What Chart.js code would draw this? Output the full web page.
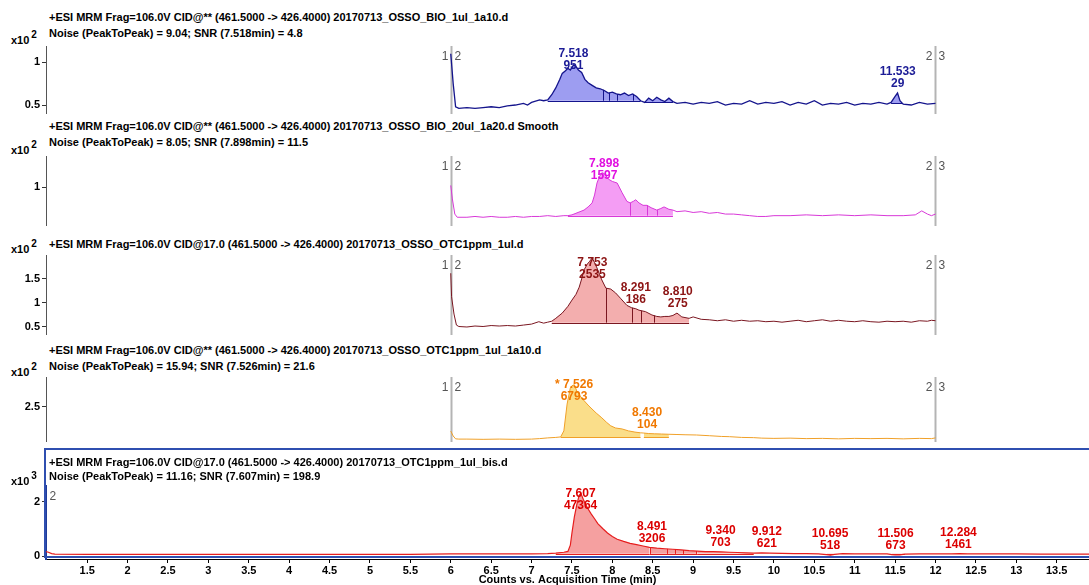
<!DOCTYPE html>
<html>
<head>
<meta charset="utf-8">
<script src="https://cdn.jsdelivr.net/npm/chart.js@4.4.1/dist/chart.umd.min.js"></script>
<style>
  html,body{margin:0;padding:0;background:#fff;}
  body{width:1089px;height:585px;overflow:hidden;position:relative;font-family:'Liberation Sans',Arial,sans-serif;}
  .t{position:absolute;left:49px;font-weight:bold;font-size:11px;line-height:16px;white-space:nowrap;color:#000;}
  .m{position:absolute;left:11px;font-weight:bold;font-size:11px;line-height:14px;white-space:nowrap;color:#000;}
  .m sup{font-size:10px;position:relative;top:-1px;vertical-align:super;line-height:0;margin-left:2px;}
  canvas{position:absolute;left:0;}
  #box{position:absolute;left:44px;top:448px;width:1060px;height:110px;border:2px solid #2f4fb0;box-sizing:border-box;pointer-events:none;}
</style>
</head>
<body>
<div class="t" style="top:9px">+ESI MRM Frag=106.0V CID@** (461.5000 -&gt; 426.4000) 20170713_OSSO_BIO_1ul_1a10.d</div>
<div class="t" style="top:25px">Noise (PeakToPeak) = 9.04; SNR (7.518min) = 4.8</div>
<div class="m" style="top:33px">x10<sup>2</sup></div>

<div class="t" style="top:118px">+ESI MRM Frag=106.0V CID@** (461.5000 -&gt; 426.4000) 20170713_OSSO_BIO_20ul_1a20.d Smooth</div>
<div class="t" style="top:134px">Noise (PeakToPeak) = 8.05; SNR (7.898min) = 11.5</div>
<div class="m" style="top:143px">x10<sup>2</sup></div>

<div class="t" style="top:236px">+ESI MRM Frag=106.0V CID@17.0 (461.5000 -&gt; 426.4000) 20170713_OSSO_OTC1ppm_1ul.d</div>
<div class="m" style="top:242px">x10<sup>2</sup></div>

<div class="t" style="top:342px">+ESI MRM Frag=106.0V CID@** (461.5000 -&gt; 426.4000) 20170713_OSSO_OTC1ppm_1ul_1a10.d</div>
<div class="t" style="top:358px">Noise (PeakToPeak) = 15.94; SNR (7.526min) = 21.6</div>
<div class="m" style="top:365px">x10<sup>2</sup></div>

<canvas id="c1" width="1089" height="78" style="top:36px;width:1089px;height:78px"></canvas>
<canvas id="c2" width="1089" height="80" style="top:146px;width:1089px;height:80px"></canvas>
<canvas id="c3" width="1089" height="90" style="top:245px;width:1089px;height:90px"></canvas>
<canvas id="c4" width="1089" height="75" style="top:367px;width:1089px;height:75px"></canvas>
<canvas id="c5" width="1089" height="111" style="top:476px;width:1089px;height:111px"></canvas>
<div id="box"></div>
<div class="t" style="top:455px;line-height:14px">+ESI MRM Frag=106.0V CID@17.0 (461.5000 -&gt; 426.4000) 20170713_OTC1ppm_1ul_bis.d</div>
<div class="t" style="top:469px;line-height:14px">Noise (PeakToPeak) = 11.16; SNR (7.607min) = 198.9</div>
<div class="m" style="top:474px">x10<sup>3</sup></div>

<script>
// ---------------- DATA ----------------
const xTicks = [1.5,2,2.5,3,3.5,4,4.5,5,5.5,6,6.5,7,7.5,8,8.5,9,9.5,10,10.5,11,11.5,12,12.5,13,13.5];

// [time (min), counts]
const p1Trace = [[6.00,1.10],[6.03,0.75],[6.06,0.48],[6.10,0.46],[6.2,0.47],[6.3,0.46],[6.4,0.47],[6.5,0.48],[6.6,0.47],[6.7,0.49],[6.8,0.50],[6.9,0.52],[6.95,0.50],[7.0,0.53],[7.1,0.56],[7.15,0.55],[7.2,0.56],[7.25,0.62],[7.3,0.70],[7.35,0.80],[7.38,0.87],[7.42,0.90],[7.45,0.93],[7.48,0.91],[7.52,0.97],[7.55,0.95],[7.58,0.91],[7.62,0.88],[7.66,0.80],[7.70,0.76],[7.75,0.73],[7.80,0.70],[7.85,0.69],[7.90,0.67],[7.95,0.64],[8.00,0.65],[8.05,0.63],[8.10,0.62],[8.15,0.64],[8.20,0.61],[8.25,0.63],[8.30,0.60],[8.35,0.55],[8.40,0.53],[8.45,0.58],[8.50,0.55],[8.55,0.59],[8.60,0.56],[8.65,0.54],[8.70,0.58],[8.75,0.54],[8.8,0.52],[8.9,0.53],[9.0,0.51],[9.1,0.53],[9.2,0.52],[9.3,0.54],[9.4,0.50],[9.5,0.52],[9.6,0.51],[9.7,0.55],[9.8,0.51],[9.9,0.53],[10.0,0.52],[10.1,0.54],[10.2,0.50],[10.3,0.53],[10.4,0.51],[10.5,0.55],[10.6,0.50],[10.7,0.52],[10.8,0.51],[10.9,0.53],[11.0,0.50],[11.1,0.52],[11.2,0.51],[11.3,0.53],[11.4,0.51],[11.45,0.53],[11.50,0.60],[11.53,0.64],[11.56,0.55],[11.6,0.51],[11.7,0.50],[11.8,0.53],[11.9,0.51],[12.0,0.52]];
const p2Trace = [[6.00,1.02],[6.02,0.85],[6.05,0.66],[6.08,0.62],[6.2,0.62],[6.3,0.63],[6.4,0.62],[6.5,0.63],[6.6,0.62],[6.7,0.62],[6.8,0.63],[6.9,0.62],[7.0,0.63],[7.1,0.63],[7.2,0.64],[7.3,0.63],[7.4,0.64],[7.45,0.64],[7.5,0.65],[7.55,0.67],[7.6,0.69],[7.65,0.71],[7.7,0.75],[7.75,0.80],[7.78,0.90],[7.81,1.05],[7.84,1.13],[7.87,1.18],[7.9,1.17],[7.95,1.10],[8.0,1.07],[8.06,1.05],[8.12,0.93],[8.18,0.82],[8.22,0.80],[8.26,0.82],[8.29,0.84],[8.33,0.80],[8.38,0.77],[8.43,0.77],[8.48,0.74],[8.55,0.71],[8.6,0.73],[8.64,0.75],[8.7,0.72],[8.75,0.71],[8.8,0.69],[8.9,0.70],[9.0,0.68],[9.1,0.69],[9.2,0.67],[9.3,0.68],[9.4,0.66],[9.5,0.66],[9.6,0.65],[9.7,0.64],[9.8,0.63],[9.9,0.63],[10.0,0.64],[10.2,0.64],[10.4,0.65],[10.6,0.64],[10.8,0.65],[11.0,0.64],[11.2,0.65],[11.4,0.64],[11.6,0.64],[11.75,0.65],[11.83,0.70],[11.9,0.66],[11.95,0.64],[12.0,0.66]];
const p3Trace = [[6.00,1.62],[6.01,1.13],[6.04,0.77],[6.07,0.54],[6.1,0.51],[6.2,0.50],[6.3,0.52],[6.4,0.51],[6.5,0.53],[6.6,0.52],[6.7,0.53],[6.8,0.52],[6.9,0.54],[7.0,0.56],[7.09,0.61],[7.15,0.58],[7.2,0.60],[7.25,0.62],[7.3,0.68],[7.38,0.79],[7.45,0.93],[7.5,1.06],[7.55,1.18],[7.59,1.33],[7.62,1.50],[7.65,1.69],[7.69,1.81],[7.72,1.87],[7.75,1.94],[7.78,1.84],[7.81,1.73],[7.84,1.60],[7.87,1.48],[7.92,1.31],[7.98,1.29],[8.04,1.21],[8.1,1.10],[8.18,0.95],[8.24,0.90],[8.29,0.88],[8.33,0.85],[8.41,0.82],[8.49,0.75],[8.55,0.72],[8.6,0.71],[8.65,0.72],[8.7,0.72],[8.75,0.74],[8.8,0.79],[8.86,0.71],[8.95,0.68],[9.0,0.71],[9.1,0.66],[9.2,0.65],[9.3,0.63],[9.4,0.65],[9.5,0.62],[9.6,0.64],[9.7,0.62],[9.8,0.63],[9.9,0.61],[10.0,0.62],[10.1,0.60],[10.2,0.62],[10.3,0.64],[10.4,0.61],[10.5,0.63],[10.6,0.65],[10.7,0.62],[10.8,0.64],[10.9,0.62],[11.0,0.61],[11.1,0.63],[11.2,0.61],[11.3,0.60],[11.4,0.62],[11.5,0.61],[11.6,0.62],[11.7,0.60],[11.8,0.63],[11.9,0.62],[11.95,0.64],[12.0,0.63]];
const p4Trace = [[6.00,1.50],[6.03,1.30],[6.06,1.18],[6.1,1.17],[6.2,1.17],[6.4,1.16],[6.6,1.17],[6.8,1.16],[7.0,1.17],[7.1,1.19],[7.2,1.22],[7.3,1.24],[7.36,1.26],[7.4,1.51],[7.44,2.62],[7.48,3.28],[7.5,3.38],[7.53,3.42],[7.56,3.16],[7.62,2.87],[7.71,2.54],[7.8,2.25],[7.87,2.05],[7.93,1.86],[7.98,1.72],[8.04,1.63],[8.12,1.59],[8.2,1.51],[8.28,1.46],[8.35,1.43],[8.39,1.42],[8.45,1.40],[8.52,1.39],[8.61,1.38],[8.7,1.37],[8.8,1.36],[8.9,1.35],[9.04,1.34],[9.2,1.31],[9.35,1.28],[9.45,1.27],[9.6,1.24],[9.75,1.23],[9.85,1.21],[10.0,1.20],[10.2,1.21],[10.4,1.19],[10.6,1.20],[10.8,1.18],[11.0,1.20],[11.2,1.19],[11.4,1.20],[11.6,1.18],[11.8,1.20],[11.95,1.19],[12.0,1.22]];
const p5Trace = [[0.99,0.16],[1.02,0.14],[1.06,0.09],[1.1,0.07],[1.5,0.06],[2,0.06],[2.5,0.06],[3,0.06],[3.5,0.06],[4,0.06],[4.5,0.06],[5,0.06],[5.5,0.06],[6,0.08],[6.5,0.08],[7,0.08],[7.2,0.09],[7.3,0.11],[7.4,0.14],[7.45,0.17],[7.48,0.40],[7.5,0.85],[7.53,1.45],[7.56,1.90],[7.59,2.25],[7.61,2.32],[7.64,2.10],[7.67,1.90],[7.7,1.74],[7.74,1.55],[7.78,1.38],[7.82,1.20],[7.88,1.02],[7.94,0.85],[8.0,0.72],[8.06,0.62],[8.14,0.54],[8.22,0.47],[8.3,0.42],[8.38,0.37],[8.46,0.32],[8.55,0.29],[8.65,0.27],[8.75,0.25],[8.85,0.23],[8.95,0.20],[9.05,0.18],[9.15,0.16],[9.25,0.16],[9.35,0.15],[9.45,0.14],[9.55,0.13],[9.65,0.12],[9.75,0.11],[9.85,0.12],[9.95,0.11],[10.1,0.10],[10.25,0.09],[10.4,0.09],[10.55,0.08],[10.65,0.05],[10.7,0.03],[10.75,0.06],[10.85,0.09],[11.0,0.08],[11.2,0.08],[11.4,0.08],[11.46,0.05],[11.5,0.04],[11.56,0.04],[11.62,0.07],[11.8,0.08],[12.0,0.08],[12.2,0.08],[12.3,0.09],[12.4,0.08],[12.6,0.08],[12.8,0.08],[13.0,0.08],[13.3,0.07],[13.6,0.07],[13.9,0.07]];

// integrated regions: [start, end, baseline]
const p1Regions = [[7.2,8.35,0.55],[8.4,8.75,0.53],[11.45,11.6,0.52]];
const p2Regions = [[7.45,8.75,0.64]];
const p3Regions = [[7.25,8.95,0.59]];
const p4Regions = [[7.36,8.35,1.26],[8.39,8.7,1.26]];
const p5Regions = [[7.3,8.46,0.08],[8.46,9.05,0.08],[9.05,9.75,0.09],[10.65,10.75,0.08],[11.46,11.62,0.08]];

// peak split times
const p1Dividers = [7.88,7.96,8.06,8.25];
const p2Dividers = [8.22,8.43,8.55];
const p3Dividers = [7.92,8.24,8.36,8.51];
const p4Dividers = [];
const p5Dividers = [8.46,8.68,8.77,8.88,9.04];

// peak labels: retention time + area
const p1PeakTimes = [7.518, 11.533];   const p1PeakAreas = ['951','29'];
const p2PeakTimes = [7.898];           const p2PeakAreas = ['1597'];
const p3PeakTimes = [7.753, 8.291, 8.810]; const p3PeakAreas = ['2535','186','275'];
const p4PeakTimes = [7.526, 8.430];    const p4PeakAreas = ['6793','104'];
const p4PeakFlags = ['* ', ''];
const p5PeakTimes = [7.607, 8.491, 9.340, 9.912, 10.695, 11.506, 12.284];
const p5PeakAreas = ['47364','3206','703','621','518','673','1461'];

// y tick values per panel
const p1YTicks = [0.5, 1];
const p2YTicks = [1];
const p3YTicks = [0.5, 1, 1.5];
const p4YTicks = [2.5];
const p5YTicks = [0, 2];

// time-segment markers
const markerTimes = [6, 12];
const markerLeft = ['1', '2'];
const markerRight = ['2', '3'];
const p5MarkerTimes = [0.99];
const p5MarkerLeft = [''];
const p5MarkerRight = ['2'];

// ---------------- DRAWING ----------------
const X_MIN = 0.99, X_MAX = 13.9;
Chart.defaults.font.family = "'Liberation Sans', Arial, sans-serif";

function valueAt(tr, t) {
  for (let i = 0; i < tr.length - 1; i++) {
    if (tr[i][0] <= t && t <= tr[i+1][0]) {
      const f = (t - tr[i][0]) / ((tr[i+1][0] - tr[i][0]) || 1);
      return tr[i][1] + f * (tr[i+1][1] - tr[i][1]);
    }
  }
  return tr[tr.length-1][1];
}
function maxNear(tr, t, w) {
  let m = valueAt(tr, t);
  tr.forEach(p => { if (Math.abs(p[0] - t) <= w && p[1] > m) m = p[1]; });
  return m;
}

const decor = {
  id: 'decor',
  beforeDatasetsDraw(chart, args, o) {
    const {ctx, chartArea: a, scales: {x}} = chart;
    ctx.save();
    o.markers.forEach(mk => {
      const px = Math.round(x.getPixelForValue(mk.t)) + 0.5;
      if (mk.line) {
        ctx.strokeStyle = '#b4b4b4'; ctx.lineWidth = 2;
        ctx.beginPath(); ctx.moveTo(px, a.top); ctx.lineTo(px, a.bottom); ctx.stroke();
      }
      ctx.fillStyle = '#555'; ctx.font = "12px 'Liberation Sans', Arial, sans-serif";
      ctx.textBaseline = 'middle';
      if (mk.left) { ctx.textAlign = 'right'; ctx.fillText(mk.left, px - 3, a.top + 11); }
      if (mk.right) { ctx.textAlign = 'left'; ctx.fillText(mk.right, px + 3, a.top + 11); }
    });
    ctx.restore();
  },
  afterDatasetsDraw(chart, args, o) {
    const {ctx, chartArea: a, scales: {x, y}} = chart;
    ctx.save();
    ctx.beginPath(); ctx.rect(a.left, a.top - 12, a.right - a.left, a.bottom - a.top + 12); ctx.clip();
    ctx.strokeStyle = o.line; ctx.lineWidth = 1;
    o.regions.forEach(r => {
      const yb = Math.round(y.getPixelForValue(r[2])) + 0.5;
      ctx.beginPath(); ctx.moveTo(x.getPixelForValue(r[0]), yb); ctx.lineTo(x.getPixelForValue(r[1]), yb); ctx.stroke();
    });
    o.dividers.forEach(t => {
      const r = o.regions.find(rr => t >= rr[0] && t <= rr[1]) || o.regions[0];
      const px = Math.round(x.getPixelForValue(t)) + 0.5;
      ctx.beginPath(); ctx.moveTo(px, y.getPixelForValue(r[2])); ctx.lineTo(px, y.getPixelForValue(valueAt(o.trace, t))); ctx.stroke();
    });
    ctx.restore();
    ctx.save();
    ctx.fillStyle = o.label; ctx.font = "bold 12px 'Liberation Sans', Arial, sans-serif";
    ctx.textAlign = 'center'; ctx.textBaseline = 'middle';
    o.peaks.forEach(pk => {
      const px = x.getPixelForValue(pk.t);
      const py = y.getPixelForValue(maxNear(o.trace, pk.t, 0.03));
      let l2 = py - 9, l1 = l2 - 12;
      if (l1 < a.top + 8) { l1 = a.top + 8; l2 = l1 + 12; }
      ctx.fillText((pk.flag || '') + pk.t.toFixed(3), px, l1);
      ctx.fillText(pk.area, px, l2);
    });
    ctx.restore();
  }
};

function makePanel(id, p) {
  const pts = p.trace.map(q => ({x: q[0], y: q[1]}));
  const datasets = [{data: pts, borderColor: p.line, borderWidth: p.lw, pointRadius: 0, fill: false, order: 0, tension: 0}];
  p.regions.forEach(r => datasets.push({
    data: pts.filter(q => q.x >= r[0] - 1e-9 && q.x <= r[1] + 1e-9),
    borderWidth: 0, borderColor: 'rgba(0,0,0,0)', backgroundColor: p.fill,
    pointRadius: 0, fill: {value: r[2]}, order: 1, tension: 0
  }));
  const peaks = p.peakTimes.map((t, i) => ({t, area: p.peakAreas[i], flag: p.flags ? p.flags[i] : ''}));
  const markers = p.markerTimes.map((t, i) => ({t, left: p.markerLeft[i], right: p.markerRight[i], line: p.markerLine}));
  const showX = !!p.showX;
  return new Chart(document.getElementById(id), {
    type: 'line',
    data: {datasets},
    options: {
      animation: false, responsive: false, events: [],
      layout: {padding: {top: 10, left: 0, right: 0, bottom: 0}},
      plugins: {
        legend: {display: false}, tooltip: {enabled: false},
        decor: {trace: p.trace, regions: p.regions, dividers: p.dividers, peaks, markers, line: p.line, label: p.labelColor}
      },
      scales: {
        x: {
          type: 'linear', min: X_MIN, max: X_MAX, display: showX, position: 'bottom',
          afterBuildTicks: s => { s.ticks = xTicks.map(v => ({value: v})); },
          afterFit: s => { if (showX) { s.height = 28; } else { s.height = 0; } s.paddingLeft = 0; s.paddingRight = 0; },
          ticks: {callback: v => String(v), font: {weight: 'bold', size: 11}, color: '#000', padding: 1, maxRotation: 0, autoSkip: false},
          grid: {drawOnChartArea: false, drawTicks: true, tickLength: 4, color: '#000'},
          border: {display: true, color: '#000', width: 1},
          title: {display: showX, text: 'Counts vs. Acquisition Time (min)', font: {weight: 'bold', size: 11}, color: '#000', padding: {top: 0, bottom: 0}}
        },
        y: {
          type: 'linear', min: p.yMin, max: p.yMax,
          afterBuildTicks: s => { s.ticks = p.yTicks.map(v => ({value: v})); },
          afterFit: s => { s.width = 46; s.paddingTop = 0; s.paddingBottom = 0; },
          ticks: {callback: v => String(v), font: {weight: 'bold', size: 11}, color: '#000', padding: 2},
          grid: {drawOnChartArea: false, drawTicks: true, tickLength: 4, color: '#333'},
          border: {display: true, color: p.axisColor || '#555', width: p.axisWidth || 1}
        }
      }
    },
    plugins: [decor]
  });
}

makePanel('c1', {trace: p1Trace, regions: p1Regions, dividers: p1Dividers, peakTimes: p1PeakTimes, peakAreas: p1PeakAreas,
  markerTimes, markerLeft, markerRight, markerLine: true, yTicks: p1YTicks, yMin: 0.395, yMax: 1.19,
  line: '#14148c', lw: 1.3, fill: 'rgba(140,140,238,0.85)', labelColor: '#1c1c96'});
makePanel('c2', {trace: p2Trace, regions: p2Regions, dividers: p2Dividers, peakTimes: p2PeakTimes, peakAreas: p2PeakAreas,
  markerTimes, markerLeft, markerRight, markerLine: true, yTicks: p2YTicks, yMin: 0.51, yMax: 1.39,
  line: '#d838d8', lw: 1, fill: 'rgba(242,140,242,0.85)', labelColor: '#e010e0'});
makePanel('c3', {trace: p3Trace, regions: p3Regions, dividers: p3Dividers, peakTimes: p3PeakTimes, peakAreas: p3PeakAreas,
  markerTimes, markerLeft, markerRight, markerLine: true, yTicks: p3YTicks, yMin: 0.333, yMax: 2.0,
  line: '#7a1620', lw: 1, fill: 'rgba(242,165,165,0.9)', labelColor: '#8c1414'});
makePanel('c4', {trace: p4Trace, regions: p4Regions, dividers: p4Dividers, peakTimes: p4PeakTimes, peakAreas: p4PeakAreas, flags: p4PeakFlags,
  markerTimes, markerLeft, markerRight, markerLine: true, yTicks: p4YTicks, yMin: 1.05, yMax: 3.74,
  line: '#f0a028', lw: 1, fill: 'rgba(250,218,125,0.9)', labelColor: '#f07800'});
makePanel('c5', {trace: p5Trace, regions: p5Regions, dividers: p5Dividers, peakTimes: p5PeakTimes, peakAreas: p5PeakAreas,
  markerTimes: p5MarkerTimes, markerLeft: p5MarkerLeft, markerRight: p5MarkerRight, markerLine: false,
  yTicks: p5YTicks, yMin: -0.11, yMax: 2.59, showX: true,
  line: '#e61e1e', lw: 1.2, fill: 'rgba(244,150,150,0.9)', labelColor: '#dc0000', axisColor: '#1f3a99', axisWidth: 2});
</script>
</body>
</html>
